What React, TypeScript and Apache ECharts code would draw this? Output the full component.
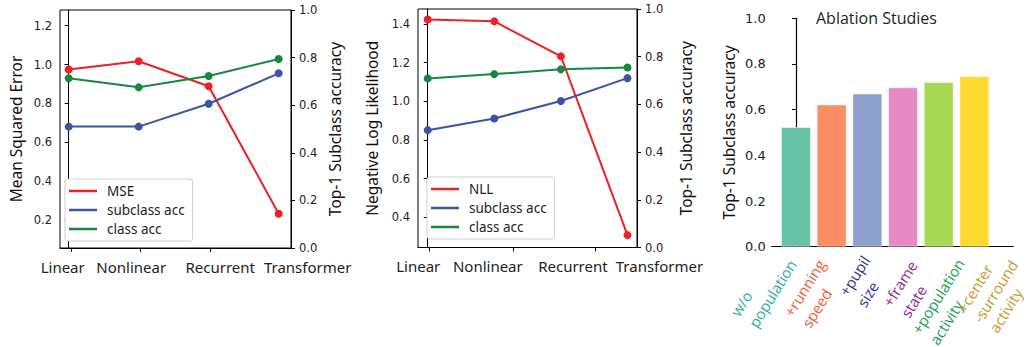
import React, { useEffect, useRef } from 'react';
import * as echarts from 'echarts';

// ---------- data ----------
const models = ['Linear', 'Nonlinear', 'Recurrent', 'Transformer'];
const modelPos = [0, 1, 2, 3];
const mse = [0.974, 1.017, 0.888, 0.231];
const subAcc1 = [0.51, 0.51, 0.606, 0.734];
const classAcc1 = [0.713, 0.675, 0.723, 0.794];
const nll = [1.424, 1.414, 1.233, 0.308];
const subAcc2 = [0.492, 0.541, 0.614, 0.71];
const classAcc2 = [0.709, 0.727, 0.747, 0.755];
const mseTicks = [0.2, 0.4, 0.6, 0.8, 1.0, 1.2];
const nllTicks = [0.4, 0.6, 0.8, 1.0, 1.2, 1.4];
const ablationLabels = [
  ['w/o', 'population'],
  ['+running', 'speed'],
  ['+pupil', 'size'],
  ['+frame', 'state'],
  ['+population', 'activity'],
  ['+center', '-surround', 'activity'],
];
const ablationAcc = [0.524, 0.623, 0.671, 0.698, 0.721, 0.747];

// ---------- styles ----------
const RED = '#ec2027';
const BLUE = '#3b54a4';
const GREEN = '#14883f';
const barColors = ['#66c2a5', '#fc8d62', '#8da0cb', '#e78ac3', '#a6d854', '#ffd92f'];
const labelColors = ['#1fae9c', '#f15a37', '#2e3192', '#92278f', '#0fa24c', '#c99a2e'];
const TICK_FONT = 'DejaVu Sans';
const TEXT_FONT = 'Noto Sans';

// label placement tweaks (layout only)
const p1Pad = [[0, 12, 0, 0], [0, 15, 0, 0], [0, 0, 0, 23], [0, 0, 0, 58]];
const p2Pad = [[0, 19, 0, 0], [0, 13, 0, 0], [0, 0, 0, 24], [0, 0, 0, 64]];
const p1TickPos = [0.043, 1.019, 2.019];
const p2TickPos = [0.03, 1.28, 2.52];
const ABL_MIN = -0.68;
const ABL_MAX = 6.09;
const ablLabelPos = [-0.35, 0.47, 1.9, 3.0, 4.4, 5.84];
const ablSpacer = [0, 41, 26, 45, 38, 22];

function modelLabelAxis(pads: number[][]) {
  const rich: Record<string, any> = {};
  pads.forEach((p, i) => {
    rich['m' + i] = { fontFamily: TEXT_FONT, fontSize: 15, color: '#222', padding: p };
  });
  return {
    customValues: modelPos,
    showMinLabel: true,
    showMaxLabel: true,
    margin: 11,
    formatter: (v: number) => {
      const i = modelPos.findIndex((p) => Math.abs(p - v) < 1e-6);
      return i < 0 ? '' : `{m${i}|${models[i]}}`;
    },
    rich,
  };
}

const tickLabelStyle = (size: number) => ({
  fontFamily: TICK_FONT,
  fontSize: size,
  color: '#222',
  showMinLabel: true,
  showMaxLabel: true,
});

const nameStyle = { fontFamily: TEXT_FONT, fontSize: 15.5, color: '#111' };

export default function App() {
  const ref = useRef<HTMLDivElement>(null);
  useEffect(() => {
    if (!ref.current) return;
    const chart = echarts.init(ref.current, undefined, { renderer: 'svg' });

    const ablRich: Record<string, any> = {
      z: { fontSize: 1, lineHeight: 1, color: 'rgba(0,0,0,0)' },
    };
    ablationLabels.forEach((_, i) => {
      ablRich['c' + i] = {
        fontFamily: 'Open Sans',
        fontSize: 15,
        lineHeight: i === 5 ? 19 : 21,
        color: labelColors[i],
        align: 'left',
      };
      ablRich['s' + i] = { fontSize: 1, lineHeight: Math.max(ablSpacer[i], 1) };
    });
    // tiny invisible end markers keep ECharts' min/max overlap check away from the real labels
    const ablAllPos = [ABL_MIN, ...ablLabelPos, ABL_MAX];

    const legendBase = {
      orient: 'vertical',
      icon: 'rect',
      itemWidth: 28,
      itemHeight: 2.5,
      itemGap: 3,
      padding: [4, 8, 4, 4],
      backgroundColor: '#fff',
      borderColor: '#cfcfcf',
      borderWidth: 1,
      borderRadius: 3,
      selectedMode: false,
      textStyle: { fontFamily: TEXT_FONT, fontSize: 13.5, color: '#222', lineHeight: 16, padding: [0, 0, 0, 5] },
    };

    const gridBase = { outerBoundsMode: 'none', containLabel: false };

    const option: any = {
      animation: false,
      backgroundColor: '#fff',
      title: {
        text: 'Ablation Studies',
        left: 816,
        top: 10,
        padding: 0,
        textStyle: { fontFamily: 'Open Sans', fontSize: 16, fontWeight: 'normal', color: '#231f20' },
      },
      legend: [
        { ...legendBase, left: 65, top: 179, data: ['MSE', 'subclass acc', 'class acc'] },
        { ...legendBase, left: 427, top: 177, data: ['NLL', 'subclass acc', 'class acc'] },
      ],
      grid: [
        { ...gridBase, left: 60, top: 10, width: 231, height: 238, show: true, borderColor: '#000', borderWidth: 1, backgroundColor: 'transparent' },
        { ...gridBase, left: 418, top: 9, width: 219, height: 238.5, show: true, borderColor: '#000', borderWidth: 1, backgroundColor: 'transparent' },
        { ...gridBase, left: 771.7, top: 18.3, width: 241.6, height: 228.4 },
      ],
      xAxis: [
        {
          type: 'value', gridIndex: 0, min: -0.124, max: 3.176,
          axisLine: { show: true, lineStyle: { color: '#000' } },
          axisTick: { show: true, customValues: p1TickPos, length: 4, lineStyle: { color: '#000' } },
          axisLabel: modelLabelAxis(p1Pad),
          splitLine: { show: false },
        },
        {
          type: 'value', gridIndex: 1, min: -0.146, max: 3.143,
          axisLine: { show: true, lineStyle: { color: '#000' } },
          axisTick: { show: true, customValues: p2TickPos, length: 4, lineStyle: { color: '#000' } },
          axisLabel: modelLabelAxis(p2Pad),
          splitLine: { show: false },
        },
        {
          type: 'value', gridIndex: 2, min: ABL_MIN, max: ABL_MAX,
          axisLine: { show: true, lineStyle: { color: '#000', width: 1.2 } },
          axisTick: { show: false },
          axisLabel: {
            customValues: ablAllPos,
            hideOverlap: false,
            rotate: 58,
            margin: 9,
            fontSize: 1,
            lineHeight: 1,
            formatter: (v: number) => {
              const i = ablLabelPos.findIndex((p) => Math.abs(p - v) < 1e-6);
              if (i < 0) return '{z| }';
              const lines = ablationLabels[i].map((l) => `{c${i}|${l}}`);
              if (ablSpacer[i] > 0) lines.unshift(`{s${i}| }`);
              return lines.join('\n');
            },
            rich: ablRich,
          },
          splitLine: { show: false },
        },
      ],
      yAxis: [
        {
          type: 'value', gridIndex: 0, position: 'left', min: 0.054, max: 1.281,
          axisLine: { show: true, lineStyle: { color: '#000' } },
          axisTick: { show: true, customValues: mseTicks, length: 4, lineStyle: { color: '#000' } },
          axisLabel: { customValues: mseTicks, margin: 8, formatter: (v: number) => v.toFixed(1), ...tickLabelStyle(11.5) },
          splitLine: { show: false },
          name: 'Mean Squared Error', nameLocation: 'middle', nameGap: 36, nameRotate: 90, nameTextStyle: nameStyle,
        },
        {
          type: 'value', gridIndex: 0, position: 'right', min: 0, max: 1, interval: 0.2,
          axisLine: { show: true, lineStyle: { color: '#000' } },
          axisTick: { show: true, length: 4, lineStyle: { color: '#000' } },
          axisLabel: { margin: 8, formatter: (v: number) => v.toFixed(1), ...tickLabelStyle(11.5) },
          splitLine: { show: false },
          name: 'Top-1 Subclass accuracy', nameLocation: 'middle', nameGap: 36, nameRotate: 90, nameTextStyle: nameStyle,
        },
        {
          type: 'value', gridIndex: 1, position: 'left', min: 0.244, max: 1.478,
          axisLine: { show: true, lineStyle: { color: '#000' } },
          axisTick: { show: true, customValues: nllTicks, length: 4, lineStyle: { color: '#000' } },
          axisLabel: { customValues: nllTicks, margin: 8, formatter: (v: number) => v.toFixed(1), ...tickLabelStyle(11.5) },
          splitLine: { show: false },
          name: 'Negative Log Likelihood', nameLocation: 'middle', nameGap: 38, nameRotate: 90, nameTextStyle: nameStyle,
        },
        {
          type: 'value', gridIndex: 1, position: 'right', min: 0, max: 1, interval: 0.2,
          axisLine: { show: true, lineStyle: { color: '#000' } },
          axisTick: { show: true, length: 4, lineStyle: { color: '#000' } },
          axisLabel: { margin: 8, formatter: (v: number) => v.toFixed(1), ...tickLabelStyle(11.5) },
          splitLine: { show: false },
          name: 'Top-1 Subclass accuracy', nameLocation: 'middle', nameGap: 41, nameRotate: 90, nameTextStyle: nameStyle,
        },
        {
          type: 'value', gridIndex: 2, position: 'left', min: 0, max: 1, interval: 0.2,
          axisLine: { show: true, lineStyle: { color: '#000', width: 1.2 } },
          axisTick: { show: true, length: 4, lineStyle: { color: '#000' } },
          axisLabel: { margin: 6, formatter: (v: number) => v.toFixed(1), ...tickLabelStyle(13) },
          splitLine: { show: false },
          name: 'Top-1 Subclass accuracy', nameLocation: 'middle', nameGap: 35, nameRotate: 90, nameTextStyle: nameStyle,
        },
      ],
      series: [
        {
          name: 'MSE', type: 'line', xAxisIndex: 0, yAxisIndex: 0, color: RED,
          symbol: 'circle', symbolSize: 8, lineStyle: { width: 2 },
          data: modelPos.map((x, i) => [x, mse[i]]),
        },
        {
          name: 'subclass acc', type: 'line', xAxisIndex: 0, yAxisIndex: 1, color: BLUE,
          symbol: 'circle', symbolSize: 8, lineStyle: { width: 2 },
          data: modelPos.map((x, i) => [x, subAcc1[i]]),
        },
        {
          name: 'class acc', type: 'line', xAxisIndex: 0, yAxisIndex: 1, color: GREEN,
          symbol: 'circle', symbolSize: 8, lineStyle: { width: 2 },
          data: modelPos.map((x, i) => [x, classAcc1[i]]),
        },
        {
          name: 'NLL', type: 'line', xAxisIndex: 1, yAxisIndex: 2, color: RED,
          symbol: 'circle', symbolSize: 8, lineStyle: { width: 2 },
          data: modelPos.map((x, i) => [x, nll[i]]),
        },
        {
          name: 'subclass acc', type: 'line', xAxisIndex: 1, yAxisIndex: 3, color: BLUE,
          symbol: 'circle', symbolSize: 8, lineStyle: { width: 2 },
          data: modelPos.map((x, i) => [x, subAcc2[i]]),
        },
        {
          name: 'class acc', type: 'line', xAxisIndex: 1, yAxisIndex: 3, color: GREEN,
          symbol: 'circle', symbolSize: 8, lineStyle: { width: 2 },
          data: modelPos.map((x, i) => [x, classAcc2[i]]),
        },
        {
          name: 'ablation', type: 'bar', xAxisIndex: 2, yAxisIndex: 4, barWidth: 30,
          data: ablationAcc.map((v, i) => ({
            value: [i, v],
            itemStyle: { color: barColors[i], borderColor: 'rgba(255,255,255,0.5)', borderWidth: 1 },
          })),
        },
      ],
    };
    chart.setOption(option);
    return () => chart.dispose();
  }, []);
  return (
    <div
      ref={ref}
      style={{ position: 'absolute', left: 0, top: 0, width: 1032, height: 347 }}
    />
  );
}
